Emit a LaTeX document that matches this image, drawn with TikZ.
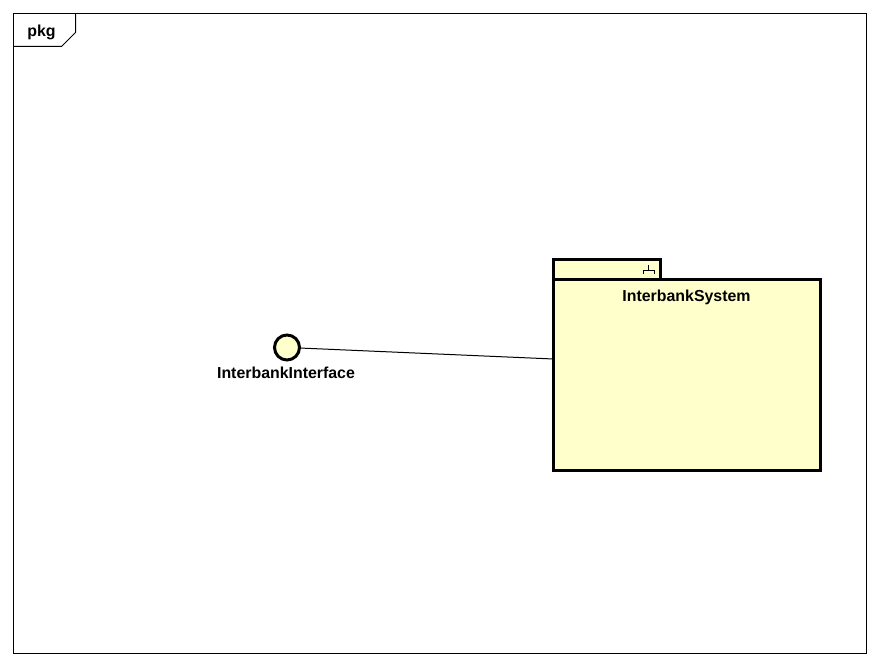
\documentclass[tikz,border=0pt]{standalone}
\usepackage{fontspec}
\setmainfont{Liberation Sans}
\definecolor{pkgfill}{HTML}{FFFFCC}
\tikzset{
  x=1pt,y=-1pt,
  thick line/.style={draw=black,line width=3pt,fill=pkgfill,line join=miter},
  frameline/.style={draw=black,line width=1pt},
  lbl/.style={font=\fontsize{15.9}{18}\selectfont\bfseries,text=black,inner sep=0pt,anchor=center}
}
\begin{document}
\begin{tikzpicture}
\useasboundingbox (0,0) rectangle (880,666);
\fill[white] (0,0) rectangle (880,666);
\draw[frameline] (13.5,13.5) rectangle (866.5,653.5);
\draw[frameline] (13.5,46.5) -- (61.5,46.5) -- (75.5,32.5) -- (75.5,13.5);
\node[lbl] (pkg) at (41.5,32.5) {pkg};
\path[thick line] (553.5,259.5) rectangle (660.5,280);
\node[thick line,minimum width=267pt,minimum height=190.5pt,inner sep=0pt,outer sep=0pt,anchor=north west] (sys) at (553.5,279.5) {};
\node[lbl] (syslabel) at (686.5,297.5) {InterbankSystem};
\draw[black,line width=1pt] (648.5,265) -- (648.5,270) (654,274) -- (654,270) -- (643,270) -- (643,274);
\node[circle,thick line,minimum size=25pt,inner sep=0pt,outer sep=0pt] (iface) at (287,347.5) {};
\node[lbl] (ifacelabel) at (286,373) {InterbankInterface};
\coordinate (a) at ([yshift=-0.5pt]iface.east);
\coordinate (b) at (sys.west |- 0,359);
\draw[black,line width=1pt] (a) -- (b);
\end{tikzpicture}
\end{document}
